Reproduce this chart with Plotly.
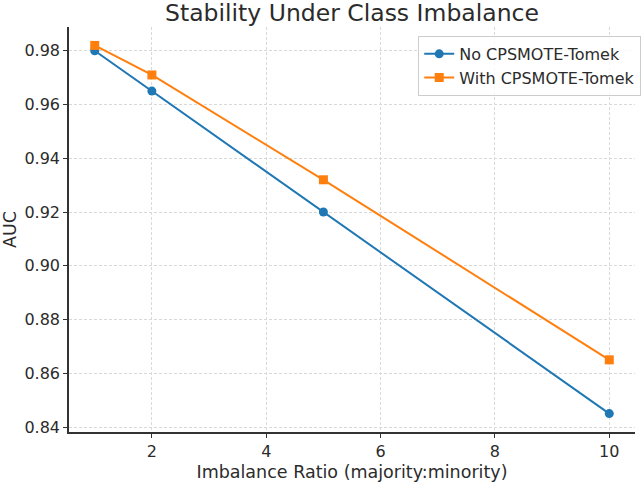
import plotly.graph_objects as go

ratios = [1, 2, 5, 10]
auc_no = [0.980, 0.965, 0.920, 0.845]
auc_with = [0.982, 0.971, 0.932, 0.865]
names = ["No CPSMOTE-Tomek", "With CPSMOTE-Tomek"]
colors = ["#1f77b4", "#ff7f0e"]
x_ticks = [2, 4, 6, 8, 10]
y_ticks = [0.84, 0.86, 0.88, 0.90, 0.92, 0.94, 0.96, 0.98]

FONT = "DejaVu Sans"
TXT = "#2b2b2b"

fig = go.Figure()
fig.add_trace(go.Scatter(x=ratios, y=auc_no, name=names[0], mode="lines+markers",
                         line=dict(color=colors[0], width=2),
                         marker=dict(symbol="circle", size=9, color=colors[0])))
fig.add_trace(go.Scatter(x=ratios, y=auc_with, name=names[1], mode="lines+markers",
                         line=dict(color=colors[1], width=2),
                         marker=dict(symbol="square", size=9, color=colors[1])))

axis_common = dict(showline=True, linecolor="#333333", linewidth=1.5, mirror=False,
                   ticks="outside", ticklen=4, tickwidth=1.2, tickcolor="#333333",
                   showgrid=True, gridcolor="#d9d9d9", griddash="3px,2px", gridwidth=1,
                   zeroline=False, tickfont=dict(family=FONT, size=16, color=TXT),
                   title_font=dict(family=FONT, size=17.5, color=TXT))

fig.update_layout(
    width=643, height=482,
    margin=dict(l=69, r=2, t=27, b=48),
    plot_bgcolor="white", paper_bgcolor="white",
    title=dict(text="Stability Under Class Imbalance", x=0.5, xref="paper", xanchor="center",
               y=0.973, yanchor="middle", font=dict(family=FONT, size=23.5, color=TXT)),
    xaxis=dict(range=[0.55, 10.45], tickvals=x_ticks,
               title=dict(text="Imbalance Ratio (majority:minority)", standoff=7), **axis_common),
    yaxis=dict(range=[0.83815, 0.98885], tickvals=y_ticks, tickformat=".2f",
               title=dict(text="AUC", standoff=8), **axis_common),
    legend=dict(x=0.617, y=0.978, xanchor="left", yanchor="top",
                bgcolor="rgba(255,255,255,0.8)", bordercolor="#cccccc", borderwidth=1,
                font=dict(family=FONT, size=16, color=TXT)),
    showlegend=True,
)

fig.write_html("out.html")
